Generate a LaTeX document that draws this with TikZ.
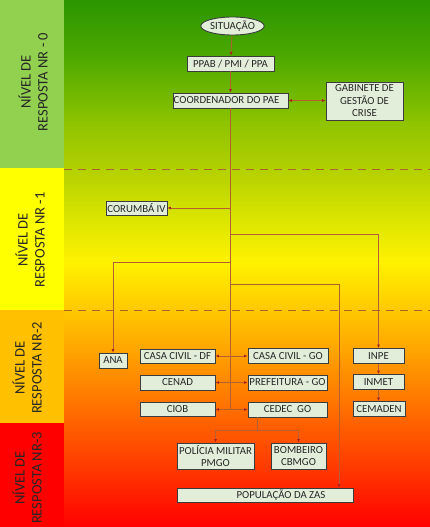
\documentclass[tikz,border=0pt]{standalone}
\usepackage{fontspec}
\setmainfont{Carlito}
\usetikzlibrary{arrows.meta,shapes.geometric,calc}
\definecolor{boxfill}{RGB}{226,238,218}
\definecolor{boxline}{RGB}{60,60,60}
\definecolor{linkc}{RGB}{180,95,45}
\definecolor{tipc}{RGB}{170,30,30}
\definecolor{dashc}{RGB}{170,100,40}
\definecolor{c0}{RGB}{146,208,80}
\definecolor{c1}{RGB}{255,255,0}
\definecolor{c2}{RGB}{255,192,0}
\definecolor{c3}{RGB}{255,0,0}
\definecolor{s0}{RGB}{42,150,0}
\definecolor{s1}{RGB}{80,170,0}
\definecolor{s2}{RGB}{140,195,0}
\definecolor{s3}{RGB}{178,208,0}
\definecolor{s4}{RGB}{216,228,0}
\definecolor{s5}{RGB}{255,242,0}
\definecolor{s6}{RGB}{255,200,0}
\definecolor{s7}{RGB}{255,155,0}
\definecolor{s8}{RGB}{255,100,0}
\definecolor{s9}{RGB}{255,45,0}
\definecolor{s10}{RGB}{255,0,0}
\begin{document}
\begin{tikzpicture}[x=1pt,y=-1pt,
 box/.style={draw=boxline,line width=0.9pt,fill=boxfill,text=black!85,font=\fontsize{10.8}{12.5}\selectfont,inner sep=0pt,align=center},
 lvl/.style={rotate=90,align=center,font=\fontsize{14.5}{17}\selectfont,text=black!85},
 link/.style={draw=linkc,line width=0.8pt},
 arr/.style={link,-{Latex[length=3.5pt,width=3pt,color=tipc]}},
 darr/.style={link,{Latex[length=3.5pt,width=3pt,color=tipc]}-{Latex[length=3.5pt,width=3pt,color=tipc]}},
 sepline/.style={draw=dashc,line width=1pt,dash pattern=on 8pt off 6pt}]
\useasboundingbox (0,0) rectangle (430,527);
% left column
\fill[c0] (0,0) rectangle (64,168);
\fill[c1] (0,168) rectangle (64,310);
\fill[c2] (0,310) rectangle (64,423);
\fill[c3] (0,423) rectangle (64,527);
% main gradient
\shade[top color=s0,bottom color=s1] (64,0) rectangle (430,61);
\shade[top color=s1,bottom color=s2] (64,60) rectangle (430,121);
\shade[top color=s2,bottom color=s3] (64,120) rectangle (430,169);
\shade[top color=s3,bottom color=s4] (64,168) rectangle (430,216);
\shade[top color=s4,bottom color=s5] (64,215) rectangle (430,263);
\shade[top color=s5,bottom color=s6] (64,262) rectangle (430,311);
\shade[top color=s6,bottom color=s7] (64,310) rectangle (430,361);
\shade[top color=s7,bottom color=s8] (64,360) rectangle (430,421);
\shade[top color=s8,bottom color=s9] (64,420) rectangle (430,481);
\shade[top color=s9,bottom color=s10] (64,480) rectangle (430,527);
% separators
\draw[sepline] (64,169) -- (430,169);
\draw[sepline] (64,310) -- (430,310);
% level labels
\node[lvl] (l0) at (33,82) {NÍVEL DE\\RESPOSTA NR - 0};
\node[lvl] (l1) at (30,240) {NÍVEL DE\\RESPOSTA NR -1};
\node[lvl] (l2) at (27,368) {NÍVEL DE\\RESPOSTA NR-2};
\node[lvl] (l3) at (27,478) {NÍVEL DE\\RESPOSTA NR-3};
% nodes
\node[box,ellipse,minimum width=61pt,minimum height=18pt] (sit) at (232.5,26) {SITUAÇÃO};
\node[box,minimum width=87pt,minimum height=15pt] (ppab) at (230.5,63.5) {PPAB / PMI / PPA};
\node[box,minimum width=115pt,minimum height=15pt] (coord) at (230.5,100.5) {COORDENADOR DO PAE\hspace*{8pt}};
\node[box,minimum width=77pt,minimum height=38pt] (gab) at (364.5,101) {GABINETE DE\\GESTÃO DE\\CRISE};
\node[box,minimum width=61pt,minimum height=14pt] (cor) at (136.5,208) {CORUMBÁ IV};
\node[box,minimum width=28pt,minimum height=15pt] (ana) at (113,360.5) {ANA};
\node[box,minimum width=75pt,minimum height=14pt] (ccdf) at (177.5,356) {CASA CIVIL - DF};
\node[box,minimum width=75pt,minimum height=15pt] (cenad) at (177.5,382.5) {CENAD};
\node[box,minimum width=75pt,minimum height=14pt] (ciob) at (177.5,409.5) {CIOB};
\node[box,minimum width=80pt,minimum height=15pt] (ccgo) at (288,356) {CASA CIVIL - GO};
\node[box,minimum width=79pt,minimum height=15pt] (pref) at (287.5,382.5) {PREFEITURA - GO};
\node[box,minimum width=79pt,minimum height=15pt] (cedec) at (287.5,409.5) {CEDEC\ \ GO};
\node[box,minimum width=51pt,minimum height=15pt] (inpe) at (378.5,356) {INPE};
\node[box,minimum width=51pt,minimum height=15pt] (inmet) at (378.5,382) {INMET};
\node[box,minimum width=52pt,minimum height=15pt] (cemaden) at (379,409) {CEMADEN};
\node[box,minimum width=77pt,minimum height=26pt] (pm) at (215.5,456) {POLÍCIA MILITAR\\PMGO};
\node[box,minimum width=55pt,minimum height=26pt] (bomb) at (298.5,456) {BOMBEIRO\\CBMGO};
\node[box,minimum width=176pt,minimum height=14pt] (pop) at (265,495) {\hspace*{32pt}POPULAÇÃO DA ZAS};
% coordinates
\coordinate (b1) at (230.5,208);
\coordinate (b2) at (230.5,234);
\coordinate (b3) at (230.5,262);
\coordinate (b4) at (230.5,284);
\coordinate (b4c) at (339,284);
\coordinate (tend) at (230.5,409.5);
\coordinate (split) at (257,430);
% connectors
\draw[arr] (sit) -- (ppab);
\draw[arr] (ppab) -- (coord);
\draw[darr] (coord.east) -- (coord.east -| gab.west);
\draw[link] (coord.south) -- (tend);
\draw[arr] (b1) -- (cor.east);
\draw[arr] (b2) -| (inpe.north);
\draw[arr] (b3) -| (ana.north);
\draw[arr] (b4) -- (b4c) -- (b4c |- pop.north);
\draw[darr] (ccdf.east) -- (ccgo.west);
\draw[darr] (cenad.east) -- (pref.west);
\draw[darr] (ciob.east) -- (cedec.west);
\draw[arr] (inpe) -- (inmet);
\draw[arr] (inmet) -- (inmet |- cemaden.north);
\draw[link] (split |- cedec.south) -- (split);
\draw[arr] (split) -| (pm.north);
\draw[arr] (split) -| (bomb.north);
\end{tikzpicture}
\end{document}
